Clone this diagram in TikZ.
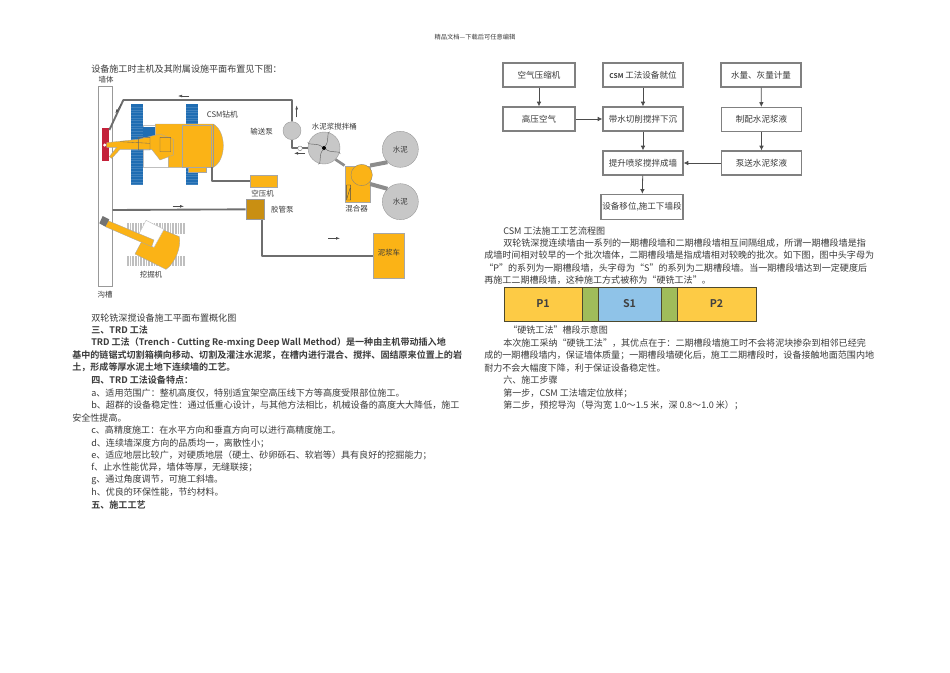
\documentclass[tikz,border=0pt]{standalone}
\usepackage{fontspec}
\setmainfont{Noto Sans CJK SC}[BoldFont={Noto Sans CJK SC Bold}]
\usetikzlibrary{arrows.meta, positioning}
\definecolor{bodytext}{HTML}{3A3A3A}
\definecolor{machyel}{HTML}{FBB316}
\definecolor{trackblue}{HTML}{1F6DB3}
\definecolor{pipegray}{HTML}{6E6E6E}
\definecolor{wallred}{HTML}{C4213A}
\definecolor{slotyel}{HTML}{FDCB45}
\definecolor{slotgreen}{HTML}{A0BC5A}
\definecolor{slotblue}{HTML}{8FC3E8}
\tikzset{
    txt/.style={anchor=west, inner sep=0pt, text=bodytext, font=\fontsize{6.8pt}{8pt}\selectfont},
    boldtxt/.style={txt, font=\fontsize{6.8pt}{8pt}\selectfont\bfseries},
    lbl/.style={inner sep=0pt, text=bodytext, font=\fontsize{5.6pt}{7pt}\selectfont},
    flowbox/.style={draw=black!50, line width=0.9pt, fill=white, minimum width=60pt, minimum height=18pt, inner sep=0pt, text=bodytext, font=\fontsize{6.4pt}{8pt}\selectfont},
    flowarrow/.style={draw=black!70, line width=0.6pt, -{Latex[length=3.5pt,width=3.5pt]}},
    slotbox/.style={draw=black!60!olive, line width=0.6pt, minimum height=25.5pt, inner sep=0pt, font=\fontsize{8pt}{9pt}\selectfont\bfseries, text=black!75},
    pipe/.style={draw=pipegray, line width=1.4pt, line join=round},
    flowtick/.style={draw=black!70, line width=0.35pt, -{Latex[length=3pt,width=2pt]}},
    yelpart/.style={fill=machyel, draw=black!35, line width=0.25pt},
    drum/.style={circle, fill=black!22, draw=black!40, line width=0.3pt, inner sep=0pt},
}
\begin{document}
\begin{tikzpicture}[x=0.75pt, y=-0.75pt]
    \useasboundingbox (0,0) rectangle (950,672);

    % header
    \node[lbl, font=\fontsize{4.7pt}{5pt}\selectfont] (header) at (475,37) {精品文档---下载后可任意编辑};

    % left column
    \node[txt] (intro) at (91,69) {设备施工时主机及其附属设施平面布置见下图：};
    \node[txt] (capa) at (91,318) {双轮铣深搅设备施工平面布置概化图};
    \node[boldtxt] (sec3) at (91,330) {三、TRD 工法};
    \node[boldtxt] (la) at (91,343) {TRD 工法（Trench - Cutting Re-mxing Deep Wall Method）是一种由主机带动插入地};
    \node[boldtxt] (lb) at (72,355) {基中的链锯式切割箱横向移动、切割及灌注水泥浆，在槽内进行混合、搅拌、固结原来位置上的岩};
    \node[boldtxt] (lc) at (72,367) {土，形成等厚水泥土地下连续墙的工艺。};
    \node[boldtxt] (sec4) at (91,380) {四、TRD 工法设备特点：};
    \node[txt] (fa) at (91,393) {a、适用范围广：整机高度仅，特别适宜架空高压线下方等高度受限部位施工。};
    \node[txt] (fb) at (91,405) {b、超群的设备稳定性：通过低重心设计，与其他方法相比，机械设备的高度大大降低，施工};
    \node[txt] (fbb) at (72,418) {安全性提高。};
    \node[txt] (fc) at (91,430) {c、高精度施工：在水平方向和垂直方向可以进行高精度施工。};
    \node[txt] (fd) at (91,443) {d、连续墙深度方向的品质均一，离散性小；};
    \node[txt] (fe) at (91,455) {e、适应地层比较广，对硬质地层（硬土、砂卵砾石、软岩等）具有良好的挖掘能力；};
    \node[txt] (ff) at (91,467) {f、止水性能优异，墙体等厚，无缝联接；};
    \node[txt] (fg) at (91,480) {g、通过角度调节，可施工斜墙。};
    \node[txt] (fh) at (91,492) {h、优良的环保性能，节约材料。};
    \node[boldtxt] (sec5) at (91,505) {五、施工工艺};

    % plant layout, coordinates are those of the 3x crop
    \begin{scope}[shift={(80,60)}, x=0.25pt, y=-0.25pt]
        % wall
        \draw[draw=black!40, fill=white, line width=0.4pt] (55,78) rectangle (98,680);
        \fill[wallred] (65,205) rectangle (88,302);
        \node[lbl] (wall) at (78,60) {墙体};
        \node[lbl] (trench) at (75,705) {沟槽};

        % drill rig
        \fill[trackblue] (152,133) rectangle (188,375);
        \fill[trackblue] (318,133) rectangle (354,375);
        \foreach \y in {141,149,...,373} {
            \draw[white, opacity=0.15, line width=0.2pt] (152,\y) -- (188,\y);
            \draw[white, opacity=0.15, line width=0.2pt] (318,\y) -- (354,\y);
        }
        \draw[black!25, fill=white, line width=0.3pt] (190,195) rectangle (266,322);
        \fill[trackblue] (188,200) rectangle (226,232);
        \path[yelpart] (226,192) -- (400,192) .. controls (440,215) and (440,300) .. (400,322) -- (266,322) -- (266,235) -- (226,235) -- cycle;
        \path[yelpart] (306,195) rectangle (392,322);
        \path[yelpart] (325,322) rectangle (378,335);
        \draw[black!40, line width=0.25pt] (398,192) -- (398,322);
        \path[yelpart] (80,248) -- (175,238) -- (240,222) -- (280,238) -- (280,285) -- (240,300) -- (215,268) -- (120,268) -- (95,295) -- (88,290) -- (110,262) -- (80,262) -- cycle;
        \draw[black!60, line width=0.25pt] (175,232) rectangle (210,270) (240,232) rectangle (272,275) (120,245) -- (210,250);
        \fill[white] (74,255) circle (5);

        % excavator
        \foreach \y in {490,588} {
            \fill[black!25] (140,\y) rectangle (315,\y+31);
            \foreach \x in {146,154,...,314}
                \draw[white, line width=0.2pt] (\x,\y) -- (\x,\y+31);
        }
        \path[yelpart] (238,505) -- (298,530) .. controls (305,560) and (285,610) .. (258,628) -- (165,582) -- (190,535) -- cycle;
        \draw[black!25, fill=white, line width=0.3pt] (198,481) -- (252,508) -- (222,562) -- (170,535) -- cycle;
        \path[yelpart] (84,482) -- (222,540) -- (215,560) -- (76,500) -- cycle;
        \fill[black!55] (68,468) -- (88,478) -- (76,500) -- (58,490) -- cycle;

        % pipes
        \node[drum, minimum size=13.5pt] (pump) at (636,212) {};
        \node[drum, minimum size=24pt] (tank) at (732,264) {};
        \node[yelpart, minimum width=20pt, minimum height=9.5pt, inner sep=0pt] (comp) at (550,363) {};
        \node[draw=black!40, fill=machyel!80!black, minimum width=14pt, minimum height=15pt, inner sep=0pt] (hose) at (526,448) {};
        \node[yelpart, minimum width=23pt, minimum height=34pt, inner sep=0pt] (truck) at (926,587) {};
        \node[yelpart, minimum width=19pt, minimum height=27.5pt, inner sep=0pt] (mix) at (832,372) {};
        \node[drum, minimum size=27pt] (cema) at (961,268) {};
        \node[drum, minimum size=27pt] (cemb) at (961,425) {};
        \coordinate (redtop) at (88,210);
        \coordinate (rigrear) at (395,322);
        \coordinate (wallmid) at (98,450);
        \draw[pipe] (redtop) -- (130,120) -- (636,120) -- (pump.north);
        \draw[pipe] (pump.south) |- (tank.west);
        \draw[pipe] (rigrear) |- (comp.west);
        \draw[pipe] (wallmid) -- (hose.west);
        \draw[pipe] (hose.south -| 545,0) |- (truck.west);
        \draw[pipe, draw=black!45, line width=2pt] (tank.south east) -- (mix.north west);
        \draw[pipe, draw=black!45, line width=3pt] (cema.south west) -- (mix.north east);
        \draw[pipe, draw=black!45, line width=3pt] (cemb.north west) -- (mix.east);
        \path[fill=machyel, draw=black!50, line width=0.25pt] (845,345) circle (32);
        \draw[black!70, line width=0.3pt] (800,375) -- (800,420) -- (812,420) -- (812,375) -- cycle (810,385) -- (800,418);
        \fill[black] (732,264) circle (6);
        \foreach \a in {20,110,200,290}
            \draw[black!65, line width=0.3pt] (732,264) ++(\a:6) .. controls +(\a+40:18) and +(\a+90:-12) .. ++(\a:46);
        % valve
        \draw[black!60, fill=white, line width=0.25pt] (660,265) circle (7);

        % flow ticks
        \draw[flowtick] (328,108) -- (294,108);
        \draw[flowtick] (650,172) -- (650,136);
        \draw[flowtick] (675,280) -- (642,280);
        \draw[flowtick] (278,439) -- (312,439);
        \draw[flowtick] (745,535) -- (780,535);
        \draw[flowtick] (124,132) -- (106,160);

        % labels
        \node[lbl, font=\fontsize{5.8pt}{7pt}\selectfont] (rig) at (427,165) {CSM钻机};
        \node[lbl] (pumplbl) at (545,215) {输送泵};
        \node[lbl] (tanklbl) at (763,200) {水泥浆搅拌桶};
        \node[lbl] (cemalbl) at (961,268) {水泥};
        \node[lbl] (cemblbl) at (961,425) {水泥};
        \node[lbl] (mixlbl) at (830,447) {混合器};
        \node[lbl] (complbl) at (548,402) {空压机};
        \node[lbl] (hoselbl) at (607,450) {胶管泵};
        \node[lbl] (trucklbl) at (927,578) {泥浆车};
        \node[lbl] (exclbl) at (213,645) {挖掘机};
    \end{scope}

    % flow chart
    \node[flowbox, minimum width=54pt] (air) at (539,75) {空气压缩机};
    \node[flowbox, minimum width=54pt] (hiair) at (539,119) {高压空气};
    \node[flowbox] (ready) at (643,75) {{\bfseries\fontsize{5pt}{6pt}\selectfont CSM} 工法设备就位};
    \node[flowbox] (cut) at (643,119) {带水切削搅拌下沉};
    \node[flowbox] (lift) at (643,163) {提升喷浆搅拌成墙};
    \node[flowbox, minimum width=61.5pt, minimum height=19pt] (move) at (642,207) {设备移位,施工下墙段};
    \node[flowbox] (meter) at (761,75) {水量、灰量计量};
    \node[flowbox] (slurry) at (761.5,119.5) {制配水泥浆液};
    \node[flowbox] (feed) at (761.5,163) {泵送水泥浆液};
    \draw[flowarrow] (air) -- (hiair);
    \draw[flowarrow] (hiair) -- (cut);
    \draw[flowarrow] (ready) -- (cut);
    \draw[flowarrow] (cut) -- (lift);
    \draw[flowarrow] (lift) -- (move);
    \draw[flowarrow] (meter) -- (slurry);
    \draw[flowarrow] (slurry) -- (feed);
    \draw[flowarrow] (feed) -- (lift);

    % right column
    \node[txt] (capb) at (503,231) {CSM 工法施工工艺流程图};
    \node[txt] (ra) at (503,243) {双轮铣深搅连续墙由一系列的一期槽段墙和二期槽段墙相互间隔组成，所谓一期槽段墙是指};
    \node[txt] (rb) at (484,255) {成墙时间相对较早的一个批次墙体，二期槽段墙是指成墙相对较晚的批次。如下图，图中头字母为};
    \node[txt] (rc) at (484,268) {“P”的系列为一期槽段墙，头字母为“S”的系列为二期槽段墙。当一期槽段墙达到一定硬度后};
    \node[txt] (rd) at (484,280) {再施工二期槽段墙，这种施工方式被称为“硬铣工法”。};

    % slot strip
    \node[slotbox, fill=slotyel, minimum width=58.5pt] (p1) at (543,304) {P1};
    \node[slotbox, fill=slotgreen, minimum width=12pt] (ga) at (590,304) {};
    \node[slotbox, fill=slotblue, minimum width=47.25pt] (s1) at (629.5,304) {S1};
    \node[slotbox, fill=slotgreen, minimum width=12pt] (gb) at (669,304) {};
    \node[slotbox, fill=slotyel, minimum width=59.25pt] (p2) at (716.5,304) {P2};

    \node[txt] (capc) at (508,330) {“硬铣工法”槽段示意图};
    \node[txt] (re) at (503,343) {本次施工采纳“硬铣工法”，其优点在于：二期槽段墙施工时不会将泥块掺杂到相邻已经完};
    \node[txt] (rf) at (484,355) {成的一期槽段墙内，保证墙体质量；一期槽段墙硬化后，施工二期槽段时，设备接触地面范围内地};
    \node[txt] (rg) at (484,368) {耐力不会大幅度下降，利于保证设备稳定性。};
    \node[txt] (rh) at (503,380) {六、施工步骤};
    \node[txt] (ri) at (503,393) {第一步，CSM 工法墙定位放样；};
    \node[txt] (rj) at (503,405) {第二步，预挖导沟（导沟宽 1.0～1.5 米，深 0.8～1.0 米）；};
\end{tikzpicture}
\end{document}
